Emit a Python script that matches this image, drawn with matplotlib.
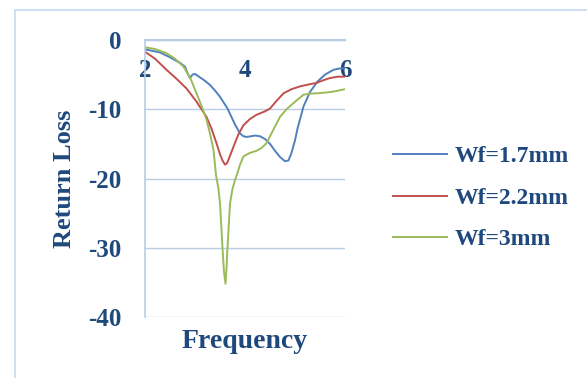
import matplotlib
matplotlib.use('Agg')

import matplotlib.pyplot as plt
from matplotlib.patches import Rectangle

# return loss curves (dB) against frequency (GHz) for three feed widths
freq_17 = [2.0, 2.3, 2.5, 2.7, 2.8, 2.85, 2.9, 2.95, 3.0, 3.1, 3.2, 3.3, 3.4, 3.5, 3.65, 3.8, 3.9,
           3.97, 4.03, 4.12, 4.2, 4.3, 4.4, 4.5, 4.6, 4.7, 4.8, 4.87, 4.93, 5.0, 5.05, 5.17, 5.3,
           5.45, 5.6, 5.77, 5.9, 6.0]
rl_17 = [-1.35, -1.8, -2.5, -3.3, -3.85, -4.8, -5.5, -5.0, -4.9, -5.4, -5.9, -6.5, -7.3, -8.2, -9.9,
         -12.2, -13.5, -13.9, -14.0, -13.9, -13.8, -13.9, -14.3, -15.0, -16.0, -16.9, -17.5, -17.4,
         -16.3, -14.5, -12.8, -9.6, -7.5, -6.0, -5.0, -4.3, -4.1, -4.1]

freq_22 = [2.0, 2.2, 2.43, 2.63, 2.83, 3.03, 3.23, 3.33, 3.43, 3.5, 3.55, 3.6, 3.64, 3.68, 3.77,
           3.87, 3.97, 4.1, 4.23, 4.4, 4.5, 4.63, 4.77, 4.93, 5.1, 5.25, 5.43, 5.57, 5.7, 5.85, 6.0]
rl_22 = [-1.7, -2.7, -4.3, -5.6, -7.0, -8.9, -11.1, -12.8, -14.9, -16.5, -17.4, -18.0, -17.8, -17.1,
         -15.4, -13.6, -12.3, -11.4, -10.8, -10.3, -9.9, -8.8, -7.7, -7.1, -6.7, -6.45, -6.2, -5.8,
         -5.5, -5.3, -5.3]

freq_30 = [2.0, 2.2, 2.43, 2.6, 2.77, 2.9, 3.03, 3.13, 3.23, 3.3, 3.37, 3.42, 3.47, 3.5,
           3.55, 3.58, 3.61, 3.63, 3.65, 3.7, 3.75, 3.8, 3.85, 3.9, 3.97, 4.1, 4.23, 4.33, 4.43,
           4.55, 4.7, 4.83, 4.97, 5.07, 5.17, 5.3, 5.43, 5.6, 5.77, 6.0]
rl_30 = [-1.05, -1.3, -1.9, -2.7, -3.85, -5.4, -7.7, -9.5, -11.5, -13.5, -15.9, -19.5, -21.5, -23.6,
         -30.0, -33.5, -35.2, -33.0, -30.0, -23.6, -21.5, -20.2, -19.2, -18.0, -16.8, -16.3, -16.0,
         -15.6, -14.9, -13.2, -11.1, -10.0, -9.1, -8.5, -7.9, -7.75, -7.7, -7.6, -7.45, -7.1]

labels = ['Wf=1.7mm', 'Wf=2.2mm', 'Wf=3mm']
colors = ['#4f81bd', '#c0504d', '#9bbb59']
text_color = '#1f497d'
grid_color = '#b9cde5'

plt.rcParams['font.family'] = ['Liberation Serif', 'DejaVu Serif']
plt.rcParams['font.weight'] = 'bold'

fig = plt.figure(figsize=(5.87, 3.78), dpi=100)
fig.patches.append(Rectangle((15 / 587, -0.5), 2, 1.5 - 10 / 378, transform=fig.transFigure,
                             fill=False, edgecolor='#c6d9f1', linewidth=1.2))

ax = fig.add_axes([145 / 587, 1 - 317 / 378, 200 / 587, 277 / 378])

for x, y, lab, c in zip([freq_17, freq_22, freq_30], [rl_17, rl_22, rl_30], labels, colors):
    ax.plot(x, y, color=c, linewidth=1.4, label=lab, solid_joinstyle='round')

ax.set_xlim(2, 6)
ax.set_ylim(-40, 0)
ax.set_xticks([2, 4, 6])
ax.set_yticks([0, -10, -20, -30, -40])
ax.set_yticklabels(['0', '-10', '-20', '-30', '-40'])

# horizontal axis crosses at zero, so it sits along the top
ax.spines['bottom'].set_position(('data', 0))
ax.spines['bottom'].set_color(grid_color)
ax.spines['bottom'].set_linewidth(1.6)
ax.spines['left'].set_color(grid_color)
ax.spines['left'].set_linewidth(1.2)
ax.spines['top'].set_visible(False)
ax.spines['right'].set_visible(False)

ax.yaxis.grid(True, color=grid_color, linewidth=1.0)
ax.set_axisbelow(True)

ax.tick_params(axis='x', length=0, pad=14, labelsize=18, labelcolor=text_color)
ax.tick_params(axis='y', length=0, pad=17, labelsize=18, labelcolor=text_color)

ax.set_xlabel('Frequency', fontsize=20, fontweight='bold', color=text_color, labelpad=0)
ax.xaxis.set_label_coords(0.5, -0.045)
ax.set_ylabel('Return Loss', fontsize=19, fontweight='bold', color=text_color)
ax.yaxis.set_label_coords(-0.345, 0.5)

fig.legend(loc='center left', bbox_to_anchor=(393 / 587, 1 - 198 / 378), frameon=False,
           borderpad=0, borderaxespad=0, handlelength=2.3, labelspacing=0.85,
           handletextpad=0.3, labelcolor=text_color, prop={'weight': 'bold', 'size': 17})

fig.savefig('out.png', dpi=100)
